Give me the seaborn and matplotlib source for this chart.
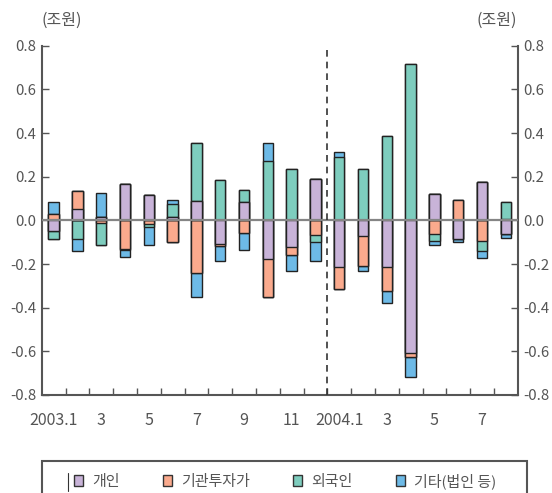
import numpy as np
import pandas as pd
import matplotlib
matplotlib.use("Agg")
import matplotlib.pyplot as plt
import seaborn as sns
from matplotlib.patches import Patch, Rectangle
from matplotlib.lines import Line2D

# Monthly net purchases by investor group (trillion won)
months = ["2003.1", "2003.2", "2003.3", "2003.4", "2003.5", "2003.6", "2003.7",
          "2003.8", "2003.9", "2003.10", "2003.11", "2003.12",
          "2004.1", "2004.2", "2004.3", "2004.4", "2004.5", "2004.6", "2004.7", "2004.8"]
month_labels = ["2003.1", "", "3", "", "5", "", "7", "", "9", "", "11", "",
                "2004.1", "", "3", "", "5", "", "7", ""]
individual = [-0.048, 0.050, 0.016, 0.168, 0.118, 0.015, 0.088, -0.109, 0.082, -0.176,
              -0.120, 0.191, -0.214, -0.073, -0.214, -0.607, 0.120, -0.084, 0.176, -0.062]
institution = [0.028, 0.086, -0.012, -0.129, -0.018, -0.100, -0.242, -0.009, -0.056, -0.176,
               -0.038, -0.065, -0.101, -0.138, -0.109, -0.021, -0.064, 0.094, -0.095, 0.005]
foreign = [-0.038, -0.086, -0.100, -0.006, -0.012, 0.062, 0.265, 0.185, 0.058, 0.273,
           0.235, -0.036, 0.292, 0.235, 0.385, 0.717, -0.030, -0.003, -0.045, 0.078]
other = [0.056, -0.053, 0.110, -0.033, -0.085, 0.014, -0.109, -0.070, -0.080, 0.082,
         -0.074, -0.086, 0.021, -0.021, -0.056, -0.091, -0.021, -0.010, -0.032, -0.018]
series_names = ["개인", "기관투자가", "외국인", "기타(법인 등)"]
y_ticks = [-0.8, -0.6, -0.4, -0.2, 0.0, 0.2, 0.4, 0.6, 0.8]
y_tick_labels = ["-0.8", "-0.6", "-0.4", "-0.2", "0.0", "0.2", "0.4", "0.6", "0.8"]
unit_label = "(조원)"

colors = ["#C8B3D8", "#FAAA8D", "#7ECDBE", "#6DBAE7"]
text_color = "#555555"
spine_color = "#555555"

sns.set_theme(style="white")
plt.rcParams["font.family"] = ["Noto Sans CJK KR", "DejaVu Sans"]

fig = plt.figure(figsize=(5.52, 4.93), dpi=100)
W, H = 552, 493
ax = fig.add_axes([41.7 / W, 1 - 395 / H, (517.7 - 41.7) / W, (395 - 45.7) / H])

# Stacked diverging bars: positive and negative parts stacked separately,
# outer cumulative totals drawn first and inner layers drawn over them.
values = np.array([individual, institution, foreign, other])
pos_stack = np.clip(values, 0, None).cumsum(axis=0)
neg_stack = np.clip(values, None, 0).cumsum(axis=0)

for i in reversed(range(len(series_names))):
    for stack in (pos_stack, neg_stack):
        df = pd.DataFrame({"month": months, "value": stack[i]})
        sns.barplot(data=df, x="month", y="value", order=months, color=colors[i],
                    saturation=1, width=0.43, edgecolor="#222222", linewidth=1.0,
                    errorbar=None, ax=ax, zorder=2)

ax.axhline(0, color="#858585", lw=1.6, zorder=4)
ax.axvline(11.5, color="#333333", lw=1.2, ls=(0, (4, 3)), zorder=5)

ax.set_xlim(-0.5, len(months) - 0.5)
ax.set_ylim(-0.8, 0.8)
ax.set_xlabel("")
ax.set_ylabel("")

ax.set_xticks(range(len(months)))
ax.set_xticklabels(month_labels)
ax.set_xticks(np.arange(0.5, len(months) - 1, 1.0), minor=True)
ax.tick_params(axis="x", which="major", length=0, pad=12, labelsize=11.5, labelcolor=text_color)
ax.tick_params(axis="x", which="minor", direction="in", length=5, width=1, color=spine_color,
               bottom=True)

ax.set_yticks(y_ticks)
ax.set_yticklabels(y_tick_labels)
ax.tick_params(axis="y", which="major", direction="in", length=5, width=1, color=spine_color,
               left=True, right=True, labelleft=True, labelright=True,
               labelsize=10.8, labelcolor=text_color, pad=4)

for side in ("left", "right", "bottom"):
    ax.spines[side].set_visible(True)
    ax.spines[side].set_color(spine_color)
    ax.spines[side].set_linewidth(1.5)
ax.spines["top"].set_visible(False)
ax.grid(False)

fig.text(62 / W, 1 - 20 / H, unit_label, ha="center", va="center", fontsize=11.5, color=text_color)
fig.text(497 / W, 1 - 20 / H, unit_label, ha="center", va="center", fontsize=11.5, color=text_color)

# Legend box (bottom edge runs past the figure)
fig.add_artist(Rectangle((42 / W, 1 - 505 / H), (527 - 42) / W, (505 - 461) / H,
                         transform=fig.transFigure, fill=False, edgecolor=spine_color,
                         linewidth=1.5, clip_on=False))
fig.add_artist(Line2D([68 / W, 68 / W], [1 - 491 / H, 1 - 473 / H],
                      transform=fig.transFigure, color="#333333", lw=0.8))
handles = [Patch(facecolor=c, edgecolor="#333333", linewidth=1) for c in colors]
fig.legend(handles, series_names, loc="center", bbox_to_anchor=(285 / W, 1 - 481 / H),
           ncol=4, frameon=False, fontsize=10.8, handlelength=0.6, handleheight=0.75,
           handletextpad=0.6, columnspacing=2.9, labelcolor=text_color, borderpad=0)

fig.savefig("out.png", dpi=100)
